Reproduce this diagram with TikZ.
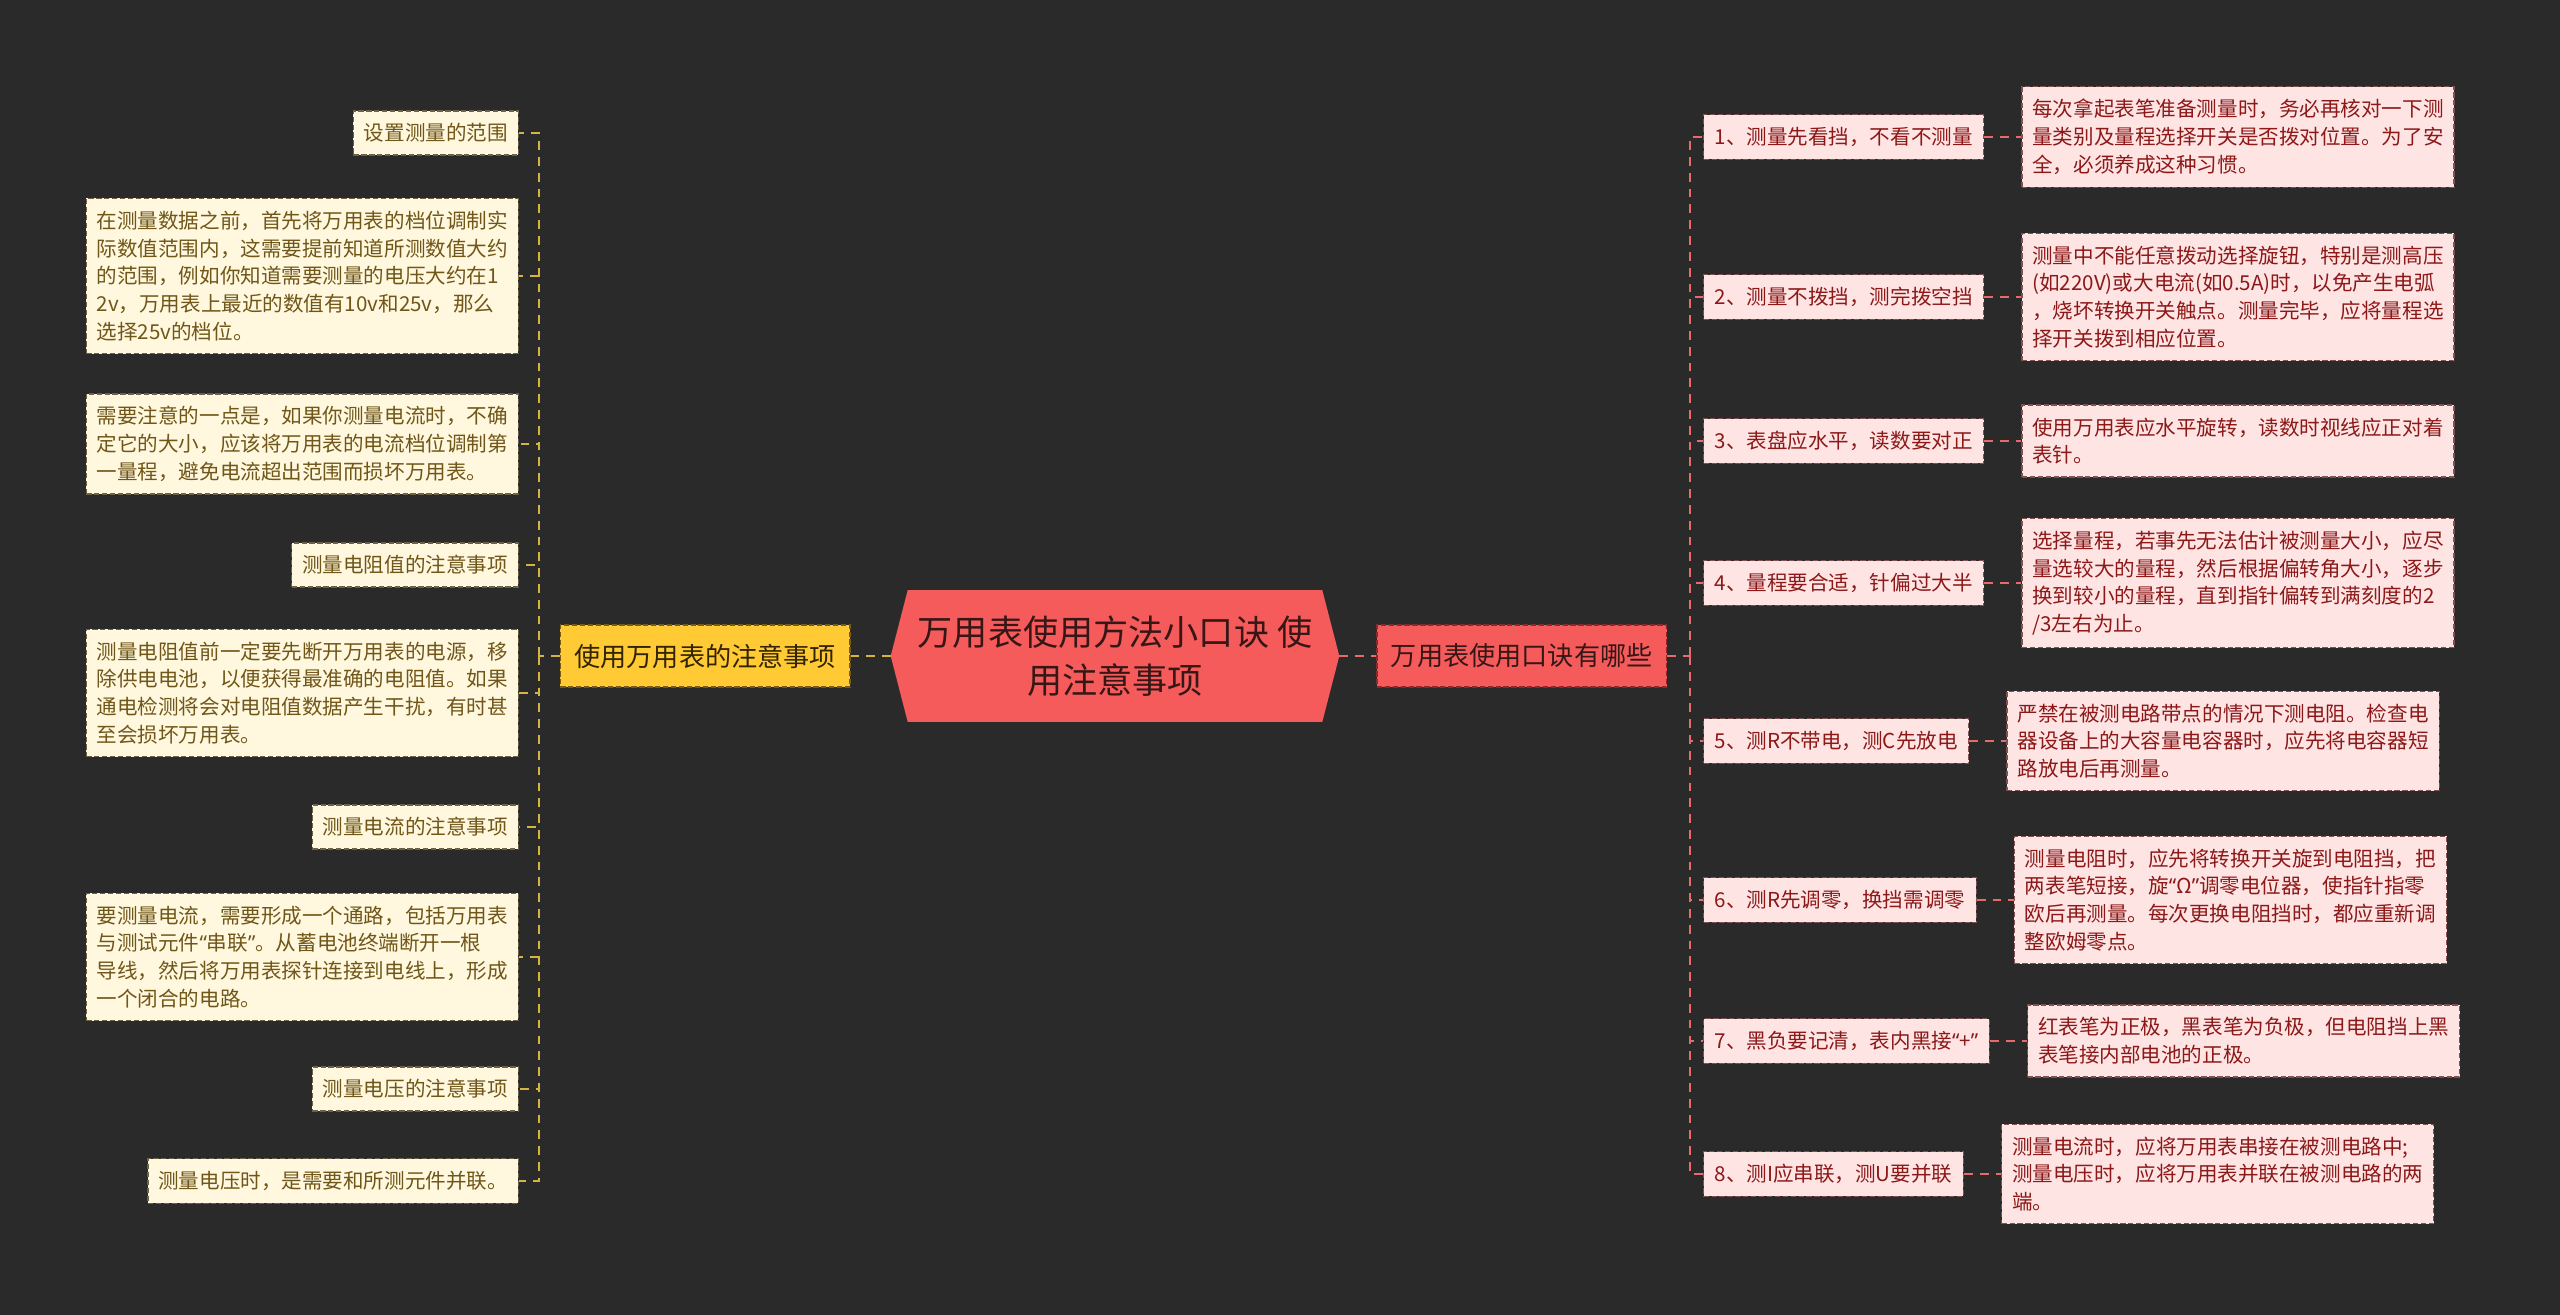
\documentclass[tikz,border=0pt]{standalone}
\usepackage{fontspec}
\usepackage{tikz}
\usetikzlibrary{positioning}
\newfontfamily\cjkfont{Noto Sans CJK SC}
\newfontfamily\quotefont{Noto Sans}
\newcommand{\qopen}{{\quotefont “}}
\newcommand{\qclose}{{\quotefont ”}}
\definecolor{pagebg}{RGB}{42, 42, 42}
\definecolor{rootred}{RGB}{245, 91, 91}
\definecolor{roottext}{RGB}{55, 22, 22}
\definecolor{careyellow}{RGB}{255, 202, 52}
\definecolor{careedge}{RGB}{120, 92, 20}
\definecolor{caretext}{RGB}{50, 36, 0}
\definecolor{leafcream}{RGB}{255, 248, 222}
\definecolor{leafedge}{RGB}{110, 98, 70}
\definecolor{leaftext}{RGB}{112, 86, 24}
\definecolor{linkyellow}{RGB}{214, 180, 68}
\definecolor{rhymeedge}{RGB}{140, 40, 40}
\definecolor{pinkfill}{RGB}{255, 228, 228}
\definecolor{pinkedge}{RGB}{130, 80, 80}
\definecolor{pinktext}{RGB}{140, 24, 24}
\definecolor{linkred}{RGB}{230, 108, 108}
\pgfdeclarelayer{back}
\pgfsetlayers{back,main}

\tikzset{
    boxbase/.style={font=\cjkfont\fontsize{11.7pt}{15.8pt}\selectfont, align=left, inner xsep=0.21cm, inner ysep=0.25cm, dash pattern=on 3pt off 1.5pt, line width=0.7pt},
    lleaf/.style={boxbase, fill=leafcream, draw=leafedge, text=leaftext},
    rmid/.style={boxbase, fill=pinkfill, draw=pinkedge, text=pinktext, inner xsep=0.22cm},
    rleaf/.style={boxbase, fill=pinkfill, draw=pinkedge, text=pinktext},
    branchbox/.style={font=\cjkfont\fontsize{14.9pt}{18pt}\selectfont, inner xsep=0.28cm, inner ysep=0pt, minimum height=1.24cm, dash pattern=on 3pt off 1.5pt, line width=0.7pt},
    ylink/.style={draw=linkyellow, line width=1.1pt, dash pattern=on 5pt off 4pt},
    rlink/.style={draw=linkred, line width=1.1pt, dash pattern=on 5pt off 4pt}
}

\begin{document}
\begin{tikzpicture}[x=0.02cm, y=-0.02cm]
    \begin{pgfonlayer}{back}
        \fill[pagebg] (0,0) rectangle (2560,1315);
    \end{pgfonlayer}
    \useasboundingbox (0,0) rectangle (2560,1315);

    \node[font=\cjkfont\fontsize{20pt}{27pt}\selectfont, align=center, text=roottext, inner sep=0pt, minimum width=8.96cm, minimum height=2.62cm] (root) at (1115,656) {万用表使用方法小口诀 使\\用注意事项};
    \begin{pgfonlayer}{back}
        \fill[rootred] (root.west) -- ([xshift=0.34cm]root.north west) -- ([xshift=-0.34cm]root.north east) -- (root.east) -- ([xshift=-0.34cm]root.south east) -- ([xshift=0.34cm]root.south west) -- cycle;
    \end{pgfonlayer}

    \node[branchbox, fill=careyellow, draw=careedge, text=caretext, left=0.8cm of root] (care) {使用万用表的注意事项};
    \node[branchbox, fill=rootred, draw=rhymeedge, text=roottext, right=0.74cm of root] (rhyme) {万用表使用口诀有哪些};
    \coordinate[left=0.42cm of care.west] (lspine);
    \coordinate[right=0.46cm of rhyme.east] (rspine);

    \node[lleaf, anchor=east] (l1) at (519,133) {设置测量的范围};
    \node[lleaf, anchor=east] (l2) at (519,276) {在测量数据之前，首先将万用表的档位调制实\\际数值范围内，这需要提前知道所测数值大约\\的范围，例如你知道需要测量的电压大约在1\\2v，万用表上最近的数值有10v和25v，那么\\选择25v的档位。};
    \node[lleaf, anchor=east] (l3) at (519,444) {需要注意的一点是，如果你测量电流时，不确\\定它的大小，应该将万用表的电流档位调制第\\一量程，避免电流超出范围而损坏万用表。};
    \node[lleaf, anchor=east] (l4) at (519,565) {测量电阻值的注意事项};
    \node[lleaf, anchor=east] (l5) at (519,693) {测量电阻值前一定要先断开万用表的电源，移\\除供电电池，以便获得最准确的电阻值。如果\\通电检测将会对电阻值数据产生干扰，有时甚\\至会损坏万用表。};
    \node[lleaf, anchor=east] (l6) at (519,827) {测量电流的注意事项};
    \node[lleaf, anchor=east] (l7) at (519,957) {要测量电流，需要形成一个通路，包括万用表\\与测试元件\qopen 串联\qclose 。从蓄电池终端断开一根\\导线，然后将万用表探针连接到电线上，形成\\一个闭合的电路。};
    \node[lleaf, anchor=east] (l8) at (519,1089) {测量电压的注意事项};
    \node[lleaf, anchor=east] (l9) at (519,1181) {测量电压时，是需要和所测元件并联。};

    \node[rmid, anchor=west] (m1) at (1703,137) {1、测量先看挡，不看不测量};
    \node[rmid, anchor=west] (m2) at (1703,297) {2、测量不拨挡，测完拨空挡};
    \node[rmid, anchor=west] (m3) at (1703,441) {3、表盘应水平，读数要对正};
    \node[rmid, anchor=west] (m4) at (1703,583) {4、量程要合适，针偏过大半};
    \node[rmid, anchor=west] (m5) at (1703,741) {5、测R不带电，测C先放电};
    \node[rmid, anchor=west] (m6) at (1703,900) {6、测R先调零，换挡需调零};
    \node[rmid, anchor=west] (m7) at (1703,1041) {7、黑负要记清，表内黑接\qopen +\qclose};
    \node[rmid, anchor=west] (m8) at (1703,1174) {8、测I应串联，测U要并联};

    \node[rleaf, right=0.74cm of m1] (d1) {每次拿起表笔准备测量时，务必再核对一下测\\量类别及量程选择开关是否拨对位置。为了安\\全，必须养成这种习惯。};
    \node[rleaf, right=0.74cm of m2] (d2) {测量中不能任意拨动选择旋钮，特别是测高压\\(如220V)或大电流(如0.5A)时，以免产生电弧\\，烧坏转换开关触点。测量完毕，应将量程选\\择开关拨到相应位置。};
    \node[rleaf, right=0.74cm of m3] (d3) {使用万用表应水平旋转，读数时视线应正对着\\表针。};
    \node[rleaf, right=0.74cm of m4] (d4) {选择量程，若事先无法估计被测量大小，应尽\\量选较大的量程，然后根据偏转角大小，逐步\\换到较小的量程，直到指针偏转到满刻度的2\\/3左右为止。};
    \node[rleaf, right=0.74cm of m5] (d5) {严禁在被测电路带点的情况下测电阻。检查电\\器设备上的大容量电容器时，应先将电容器短\\路放电后再测量。};
    \node[rleaf, right=0.74cm of m6] (d6) {测量电阻时，应先将转换开关旋到电阻挡，把\\两表笔短接，旋\qopen Ω\qclose 调零电位器，使指针指零\\欧后再测量。每次更换电阻挡时，都应重新调\\整欧姆零点。};
    \node[rleaf, right=0.74cm of m7] (d7) {红表笔为正极，黑表笔为负极，但电阻挡上黑\\表笔接内部电池的正极。};
    \node[rleaf, right=0.74cm of m8] (d8) {测量电流时，应将万用表串接在被测电路中;\\测量电压时，应将万用表并联在被测电路的两\\端。};

    \draw[ylink] (root.west) -- (care.east);
    \draw[ylink] (care.west) -- (lspine);
    \foreach \n in {l1,l2,l3,l4,l5,l6,l7,l8,l9}
        \draw[ylink] (lspine) |- (\n.east);

    \draw[rlink] (root.east) -- (rhyme.west);
    \draw[rlink] (rhyme.east) -- (rspine);
    \foreach \n in {1,...,8} {
        \draw[rlink] (rspine) |- (m\n.west);
        \draw[rlink] (m\n.east) -- (d\n.west);
    }
\end{tikzpicture}
\end{document}
